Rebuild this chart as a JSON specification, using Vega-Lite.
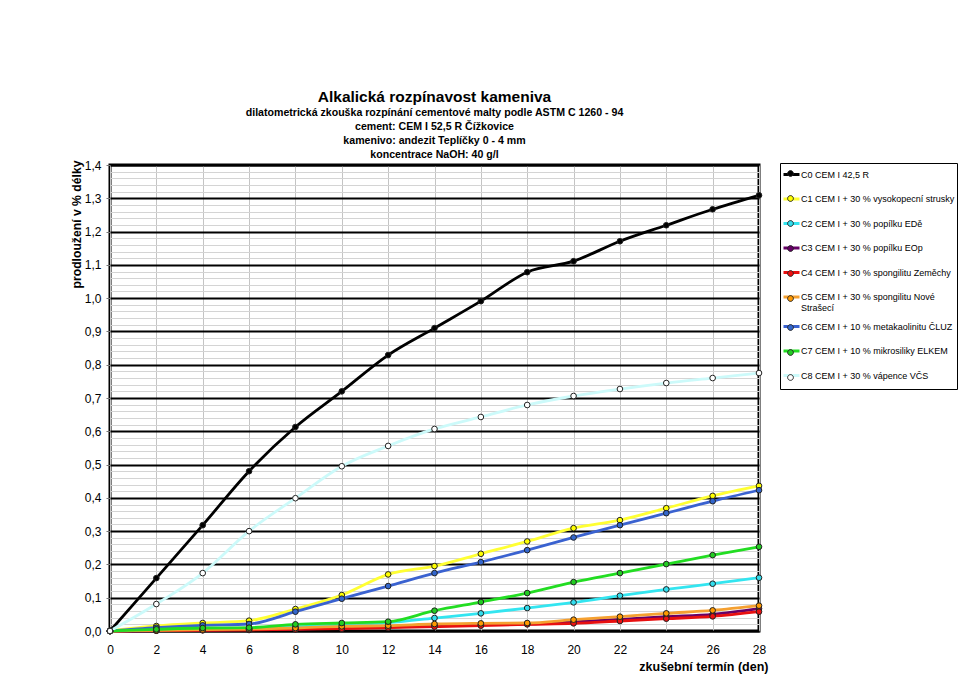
{
  "$schema": "https://vega.github.io/schema/vega-lite/v6.json",
  "width": 649,
  "height": 466,
  "autosize": "none",
  "padding": {"left": 110, "top": 165, "right": 201, "bottom": 43},
  "background": "white",
  "config": {
    "font": "Liberation Sans",
    "view": {"stroke": "black", "strokeWidth": 3}
  },
  "title": {
    "text": "Alkalická rozpínavost kameniva",
    "subtitle": [
      "dilatometrická zkouška rozpínání cementové malty podle ASTM C 1260 - 94",
      "cement: CEM I 52,5 R Čížkovice",
      "kamenivo: andezit Teplíčky 0 - 4 mm",
      "koncentrace NaOH: 40 g/l"
    ],
    "font": "Liberation Sans",
    "fontSize": 15.5,
    "fontWeight": "bold",
    "color": "black",
    "subtitleFont": "Liberation Sans",
    "subtitleFontSize": 10.6,
    "subtitleFontWeight": "bold",
    "subtitleColor": "black",
    "subtitleLineHeight": 14,
    "subtitlePadding": 3,
    "anchor": "middle",
    "offset": -2
  },
  "data": {
    "values": [
      {"serie": "C0  CEM I 42,5 R", "den": 0, "v": 0},
      {"serie": "C0  CEM I 42,5 R", "den": 2, "v": 0.159},
      {"serie": "C0  CEM I 42,5 R", "den": 4, "v": 0.318},
      {"serie": "C0  CEM I 42,5 R", "den": 6, "v": 0.48},
      {"serie": "C0  CEM I 42,5 R", "den": 8, "v": 0.613},
      {"serie": "C0  CEM I 42,5 R", "den": 10, "v": 0.72},
      {"serie": "C0  CEM I 42,5 R", "den": 12, "v": 0.829},
      {"serie": "C0  CEM I 42,5 R", "den": 14, "v": 0.91},
      {"serie": "C0  CEM I 42,5 R", "den": 16, "v": 0.991},
      {"serie": "C0  CEM I 42,5 R", "den": 18, "v": 1.078},
      {"serie": "C0  CEM I 42,5 R", "den": 20, "v": 1.111},
      {"serie": "C0  CEM I 42,5 R", "den": 22, "v": 1.171},
      {"serie": "C0  CEM I 42,5 R", "den": 24, "v": 1.219},
      {"serie": "C0  CEM I 42,5 R", "den": 26, "v": 1.267},
      {"serie": "C0  CEM I 42,5 R", "den": 28, "v": 1.309},

      {"serie": "C1 CEM I + 30 % vysokopecní strusky", "den": 0, "v": 0},
      {"serie": "C1 CEM I + 30 % vysokopecní strusky", "den": 2, "v": 0.015},
      {"serie": "C1 CEM I + 30 % vysokopecní strusky", "den": 4, "v": 0.024},
      {"serie": "C1 CEM I + 30 % vysokopecní strusky", "den": 6, "v": 0.031},
      {"serie": "C1 CEM I + 30 % vysokopecní strusky", "den": 8, "v": 0.066},
      {"serie": "C1 CEM I + 30 % vysokopecní strusky", "den": 10, "v": 0.108},
      {"serie": "C1 CEM I + 30 % vysokopecní strusky", "den": 12, "v": 0.17},
      {"serie": "C1 CEM I + 30 % vysokopecní strusky", "den": 14, "v": 0.195},
      {"serie": "C1 CEM I + 30 % vysokopecní strusky", "den": 16, "v": 0.232},
      {"serie": "C1 CEM I + 30 % vysokopecní strusky", "den": 18, "v": 0.269},
      {"serie": "C1 CEM I + 30 % vysokopecní strusky", "den": 20, "v": 0.309},
      {"serie": "C1 CEM I + 30 % vysokopecní strusky", "den": 22, "v": 0.333},
      {"serie": "C1 CEM I + 30 % vysokopecní strusky", "den": 24, "v": 0.369},
      {"serie": "C1 CEM I + 30 % vysokopecní strusky", "den": 26, "v": 0.406},
      {"serie": "C1 CEM I + 30 % vysokopecní strusky", "den": 28, "v": 0.436},

      {"serie": "C2 CEM I + 30 % popílku EDě", "den": 0, "v": 0},
      {"serie": "C2 CEM I + 30 % popílku EDě", "den": 2, "v": 0.003},
      {"serie": "C2 CEM I + 30 % popílku EDě", "den": 4, "v": 0.006},
      {"serie": "C2 CEM I + 30 % popílku EDě", "den": 6, "v": 0.008},
      {"serie": "C2 CEM I + 30 % popílku EDě", "den": 8, "v": 0.012},
      {"serie": "C2 CEM I + 30 % popílku EDě", "den": 10, "v": 0.018},
      {"serie": "C2 CEM I + 30 % popílku EDě", "den": 12, "v": 0.025},
      {"serie": "C2 CEM I + 30 % popílku EDě", "den": 14, "v": 0.039},
      {"serie": "C2 CEM I + 30 % popílku EDě", "den": 16, "v": 0.053},
      {"serie": "C2 CEM I + 30 % popílku EDě", "den": 18, "v": 0.069},
      {"serie": "C2 CEM I + 30 % popílku EDě", "den": 20, "v": 0.086},
      {"serie": "C2 CEM I + 30 % popílku EDě", "den": 22, "v": 0.106},
      {"serie": "C2 CEM I + 30 % popílku EDě", "den": 24, "v": 0.125},
      {"serie": "C2 CEM I + 30 % popílku EDě", "den": 26, "v": 0.142},
      {"serie": "C2 CEM I + 30 % popílku EDě", "den": 28, "v": 0.16},

      {"serie": "C3 CEM I + 30 % popílku EOp", "den": 0, "v": 0},
      {"serie": "C3 CEM I + 30 % popílku EOp", "den": 2, "v": 0.001},
      {"serie": "C3 CEM I + 30 % popílku EOp", "den": 4, "v": 0.003},
      {"serie": "C3 CEM I + 30 % popílku EOp", "den": 6, "v": 0.004},
      {"serie": "C3 CEM I + 30 % popílku EOp", "den": 8, "v": 0.006},
      {"serie": "C3 CEM I + 30 % popílku EOp", "den": 10, "v": 0.009},
      {"serie": "C3 CEM I + 30 % popílku EOp", "den": 12, "v": 0.012},
      {"serie": "C3 CEM I + 30 % popílku EOp", "den": 14, "v": 0.016},
      {"serie": "C3 CEM I + 30 % popílku EOp", "den": 16, "v": 0.019},
      {"serie": "C3 CEM I + 30 % popílku EOp", "den": 18, "v": 0.021},
      {"serie": "C3 CEM I + 30 % popílku EOp", "den": 20, "v": 0.027},
      {"serie": "C3 CEM I + 30 % popílku EOp", "den": 22, "v": 0.035},
      {"serie": "C3 CEM I + 30 % popílku EOp", "den": 24, "v": 0.043},
      {"serie": "C3 CEM I + 30 % popílku EOp", "den": 26, "v": 0.05},
      {"serie": "C3 CEM I + 30 % popílku EOp", "den": 28, "v": 0.067},

      {"serie": "C4 CEM I + 30 % spongilitu Zeměchy", "den": 0, "v": 0},
      {"serie": "C4 CEM I + 30 % spongilitu Zeměchy", "den": 2, "v": 0.001},
      {"serie": "C4 CEM I + 30 % spongilitu Zeměchy", "den": 4, "v": 0.002},
      {"serie": "C4 CEM I + 30 % spongilitu Zeměchy", "den": 6, "v": 0.003},
      {"serie": "C4 CEM I + 30 % spongilitu Zeměchy", "den": 8, "v": 0.005},
      {"serie": "C4 CEM I + 30 % spongilitu Zeměchy", "den": 10, "v": 0.007},
      {"serie": "C4 CEM I + 30 % spongilitu Zeměchy", "den": 12, "v": 0.01},
      {"serie": "C4 CEM I + 30 % spongilitu Zeměchy", "den": 14, "v": 0.013},
      {"serie": "C4 CEM I + 30 % spongilitu Zeměchy", "den": 16, "v": 0.016},
      {"serie": "C4 CEM I + 30 % spongilitu Zeměchy", "den": 18, "v": 0.02},
      {"serie": "C4 CEM I + 30 % spongilitu Zeměchy", "den": 20, "v": 0.023},
      {"serie": "C4 CEM I + 30 % spongilitu Zeměchy", "den": 22, "v": 0.03},
      {"serie": "C4 CEM I + 30 % spongilitu Zeměchy", "den": 24, "v": 0.037},
      {"serie": "C4 CEM I + 30 % spongilitu Zeměchy", "den": 26, "v": 0.044},
      {"serie": "C4 CEM I + 30 % spongilitu Zeměchy", "den": 28, "v": 0.058},

      {"serie": "C5 CEM I + 30 % spongilitu Nové Strašecí", "den": 0, "v": 0},
      {"serie": "C5 CEM I + 30 % spongilitu Nové Strašecí", "den": 2, "v": 0.002},
      {"serie": "C5 CEM I + 30 % spongilitu Nové Strašecí", "den": 4, "v": 0.004},
      {"serie": "C5 CEM I + 30 % spongilitu Nové Strašecí", "den": 6, "v": 0.006},
      {"serie": "C5 CEM I + 30 % spongilitu Nové Strašecí", "den": 8, "v": 0.009},
      {"serie": "C5 CEM I + 30 % spongilitu Nové Strašecí", "den": 10, "v": 0.014},
      {"serie": "C5 CEM I + 30 % spongilitu Nové Strašecí", "den": 12, "v": 0.016},
      {"serie": "C5 CEM I + 30 % spongilitu Nové Strašecí", "den": 14, "v": 0.021},
      {"serie": "C5 CEM I + 30 % spongilitu Nové Strašecí", "den": 16, "v": 0.023},
      {"serie": "C5 CEM I + 30 % spongilitu Nové Strašecí", "den": 18, "v": 0.024},
      {"serie": "C5 CEM I + 30 % spongilitu Nové Strašecí", "den": 20, "v": 0.034},
      {"serie": "C5 CEM I + 30 % spongilitu Nové Strašecí", "den": 22, "v": 0.043},
      {"serie": "C5 CEM I + 30 % spongilitu Nové Strašecí", "den": 24, "v": 0.053},
      {"serie": "C5 CEM I + 30 % spongilitu Nové Strašecí", "den": 26, "v": 0.062},
      {"serie": "C5 CEM I + 30 % spongilitu Nové Strašecí", "den": 28, "v": 0.076},

      {"serie": "C6 CEM I + 10 % metakaolinitu ČLUZ", "den": 0, "v": 0},
      {"serie": "C6 CEM I + 10 % metakaolinitu ČLUZ", "den": 2, "v": 0.01},
      {"serie": "C6 CEM I + 10 % metakaolinitu ČLUZ", "den": 4, "v": 0.017},
      {"serie": "C6 CEM I + 10 % metakaolinitu ČLUZ", "den": 6, "v": 0.021},
      {"serie": "C6 CEM I + 10 % metakaolinitu ČLUZ", "den": 8, "v": 0.058},
      {"serie": "C6 CEM I + 10 % metakaolinitu ČLUZ", "den": 10, "v": 0.097},
      {"serie": "C6 CEM I + 10 % metakaolinitu ČLUZ", "den": 12, "v": 0.135},
      {"serie": "C6 CEM I + 10 % metakaolinitu ČLUZ", "den": 14, "v": 0.174},
      {"serie": "C6 CEM I + 10 % metakaolinitu ČLUZ", "den": 16, "v": 0.207},
      {"serie": "C6 CEM I + 10 % metakaolinitu ČLUZ", "den": 18, "v": 0.243},
      {"serie": "C6 CEM I + 10 % metakaolinitu ČLUZ", "den": 20, "v": 0.281},
      {"serie": "C6 CEM I + 10 % metakaolinitu ČLUZ", "den": 22, "v": 0.318},
      {"serie": "C6 CEM I + 10 % metakaolinitu ČLUZ", "den": 24, "v": 0.354},
      {"serie": "C6 CEM I + 10 % metakaolinitu ČLUZ", "den": 26, "v": 0.39},
      {"serie": "C6 CEM I + 10 % metakaolinitu ČLUZ", "den": 28, "v": 0.423},

      {"serie": "C7 CEM I + 10 % mikrosiliky ELKEM", "den": 0, "v": 0},
      {"serie": "C7 CEM I + 10 % mikrosiliky ELKEM", "den": 2, "v": 0.005},
      {"serie": "C7 CEM I + 10 % mikrosiliky ELKEM", "den": 4, "v": 0.009},
      {"serie": "C7 CEM I + 10 % mikrosiliky ELKEM", "den": 6, "v": 0.01},
      {"serie": "C7 CEM I + 10 % mikrosiliky ELKEM", "den": 8, "v": 0.02},
      {"serie": "C7 CEM I + 10 % mikrosiliky ELKEM", "den": 10, "v": 0.024},
      {"serie": "C7 CEM I + 10 % mikrosiliky ELKEM", "den": 12, "v": 0.028},
      {"serie": "C7 CEM I + 10 % mikrosiliky ELKEM", "den": 14, "v": 0.061},
      {"serie": "C7 CEM I + 10 % mikrosiliky ELKEM", "den": 16, "v": 0.087},
      {"serie": "C7 CEM I + 10 % mikrosiliky ELKEM", "den": 18, "v": 0.114},
      {"serie": "C7 CEM I + 10 % mikrosiliky ELKEM", "den": 20, "v": 0.147},
      {"serie": "C7 CEM I + 10 % mikrosiliky ELKEM", "den": 22, "v": 0.174},
      {"serie": "C7 CEM I + 10 % mikrosiliky ELKEM", "den": 24, "v": 0.201},
      {"serie": "C7 CEM I + 10 % mikrosiliky ELKEM", "den": 26, "v": 0.228},
      {"serie": "C7 CEM I + 10 % mikrosiliky ELKEM", "den": 28, "v": 0.253},

      {"serie": "C8 CEM I + 30 % vápence VČS", "den": 0, "v": 0},
      {"serie": "C8 CEM I + 30 % vápence VČS", "den": 2, "v": 0.081},
      {"serie": "C8 CEM I + 30 % vápence VČS", "den": 4, "v": 0.174},
      {"serie": "C8 CEM I + 30 % vápence VČS", "den": 6, "v": 0.3},
      {"serie": "C8 CEM I + 30 % vápence VČS", "den": 8, "v": 0.399},
      {"serie": "C8 CEM I + 30 % vápence VČS", "den": 10, "v": 0.495},
      {"serie": "C8 CEM I + 30 % vápence VČS", "den": 12, "v": 0.556},
      {"serie": "C8 CEM I + 30 % vápence VČS", "den": 14, "v": 0.607},
      {"serie": "C8 CEM I + 30 % vápence VČS", "den": 16, "v": 0.643},
      {"serie": "C8 CEM I + 30 % vápence VČS", "den": 18, "v": 0.679},
      {"serie": "C8 CEM I + 30 % vápence VČS", "den": 20, "v": 0.706},
      {"serie": "C8 CEM I + 30 % vápence VČS", "den": 22, "v": 0.727},
      {"serie": "C8 CEM I + 30 % vápence VČS", "den": 24, "v": 0.745},
      {"serie": "C8 CEM I + 30 % vápence VČS", "den": 26, "v": 0.76},
      {"serie": "C8 CEM I + 30 % vápence VČS", "den": 28, "v": 0.775}
    ]
  },
  "encoding": {
    "x": {
      "field": "den",
      "type": "quantitative",
      "scale": {"domain": [0, 28], "nice": false, "zero": false},
      "axis": {
        "values": [0, 2, 4, 6, 8, 10, 12, 14, 16, 18, 20, 22, 24, 26, 28],
        "grid": true,
        "gridColor": "#c4c4c4",
        "gridWidth": 1,
        "domain": false,
        "ticks": false,
        "labelFont": "Liberation Sans",
        "labelFontSize": 12,
        "labelColor": "black",
        "labelPadding": 13,
        "labelFlush": false,
        "labelOverlap": false,
        "title": "zkušební termín (den)",
        "titleFont": "Liberation Sans",
        "titleFontSize": 12.5,
        "titleFontWeight": "bold",
        "titleColor": "black",
        "titleAnchor": "end",
        "titleAlign": "right",
        "titleBaseline": "alphabetic",
        "titleX": 658,
        "titleY": 39
      }
    },
    "y": {
      "field": "v",
      "type": "quantitative",
      "scale": {"domain": [0, 1.4], "nice": false},
      "axis": {
        "values": [0, 0.02, 0.04, 0.06, 0.08, 0.1, 0.12, 0.14, 0.16, 0.18, 0.2, 0.22, 0.24, 0.26, 0.28, 0.3, 0.32, 0.34, 0.36, 0.38, 0.4, 0.42, 0.44, 0.46, 0.48, 0.5, 0.52, 0.54, 0.56, 0.58, 0.6, 0.62, 0.64, 0.66, 0.68, 0.7, 0.72, 0.74, 0.76, 0.78, 0.8, 0.82, 0.84, 0.86, 0.88, 0.9, 0.92, 0.94, 0.96, 0.98, 1.0, 1.02, 1.04, 1.06, 1.08, 1.1, 1.12, 1.14, 1.16, 1.18, 1.2, 1.22, 1.24, 1.26, 1.28, 1.3, 1.32, 1.34, 1.36, 1.38, 1.4],
        "grid": true,
        "gridColor": {"condition": {"test": "abs(datum.value*10 - round(datum.value*10)) < 0.01", "value": "black"}, "value": "#d4d4d4"},
        "gridWidth": {"condition": {"test": "abs(datum.value*10 - round(datum.value*10)) < 0.01", "value": 2}, "value": 1},
        "tickColor": {"condition": {"test": "abs(datum.value*10 - round(datum.value*10)) < 0.01", "value": "#777777"}, "value": "transparent"},
        "tickSize": 4,
        "domain": false,
        "labelExpr": "abs(datum.value*10 - round(datum.value*10)) < 0.01 ? replace(format(datum.value, '.1f'), '.', ',') : ''",
        "labelFont": "Liberation Sans",
        "labelFontSize": 12,
        "labelColor": "black",
        "labelPadding": 5,
        "labelOverlap": false,
        "labelFlush": false,
        "labelBound": false,
        "title": "prodloužení v % délky",
        "titleFont": "Liberation Sans",
        "titleFontSize": 12.2,
        "titleFontWeight": "bold",
        "titleColor": "black",
        "titleAnchor": "end",
        "titleAlign": "right",
        "titleBaseline": "alphabetic",
        "titleAngle": -90,
        "titleX": -30,
        "titleY": -5
      }
    }
  },
  "layer": [
    {
      "mark": {"type": "line", "interpolate": "monotone", "strokeWidth": 2.8},
      "encoding": {
        "stroke": {
          "field": "serie",
          "type": "nominal",
          "scale": {
            "domain": [
              "C0  CEM I 42,5 R",
              "C1 CEM I + 30 % vysokopecní strusky",
              "C2 CEM I + 30 % popílku EDě",
              "C3 CEM I + 30 % popílku EOp",
              "C4 CEM I + 30 % spongilitu Zeměchy",
              "C5 CEM I + 30 % spongilitu Nové Strašecí",
              "C6 CEM I + 10 % metakaolinitu ČLUZ",
              "C7 CEM I + 10 % mikrosiliky ELKEM",
              "C8 CEM I + 30 % vápence VČS"
            ],
            "range": ["#000000", "#ffff33", "#33e5f0", "#660066", "#e81010", "#f5a030", "#3a62d0", "#22dd22", "#ccfafa"]
          },
          "legend": {
            "orient": "none",
            "legendX": 670,
            "legendY": -2,
            "title": null,
            "padding": 2,
            "strokeColor": "black",
            "fillColor": "white",
            "symbolType": "M-1,-0.6M-1,0L1,0M1,0.6",
            "symbolSize": 256,
            "symbolStrokeWidth": 3,
            "labelFont": "Liberation Sans",
            "labelFontSize": 9,
            "labelColor": "black",
            "labelOffset": 0,
            "labelLimit": 200,
            "rowPadding": 1.5,
            "labelExpr": "datum.label == 'C5 CEM I + 30 % spongilitu Nové Strašecí' ? ['C5 CEM I + 30 % spongilitu Nové', 'Strašecí'] : datum.label",
            "zindex": 0
          }
        }
      }
    },
    {
      "mark": {"type": "point", "filled": true, "size": 32, "stroke": "#222222", "strokeWidth": 1, "opacity": 1},
      "encoding": {
        "fill": {
          "field": "serie",
          "type": "nominal",
          "scale": {
            "range": ["#000000", "#ffff00", "#33ddee", "#660066", "#ee1111", "#ff9900", "#3366cc", "#22cc22", "#ffffff"]
          },
          "legend": {
            "orient": "none",
            "legendX": 670,
            "legendY": -2,
            "title": null,
            "padding": 2,
            "symbolType": "M-1,-1.2M1,1.2M0.36,0A0.36,0.36,0,1,1,-0.36,0A0.36,0.36,0,1,1,0.36,0Z",
            "symbolSize": 256,
            "symbolStrokeColor": "#222222",
            "symbolStrokeWidth": 1,
            "symbolOpacity": 1,
            "labelFont": "Liberation Sans",
            "labelFontSize": 9,
            "labelColor": "transparent",
            "labelOffset": 0,
            "labelLimit": 200,
            "rowPadding": 0,
            "labelExpr": "datum.label == 'C5 CEM I + 30 % spongilitu Nové Strašecí' ? [' ', ' '] : ' '",
            "zindex": 1
          }
        }
      }
    }
  ]
}
